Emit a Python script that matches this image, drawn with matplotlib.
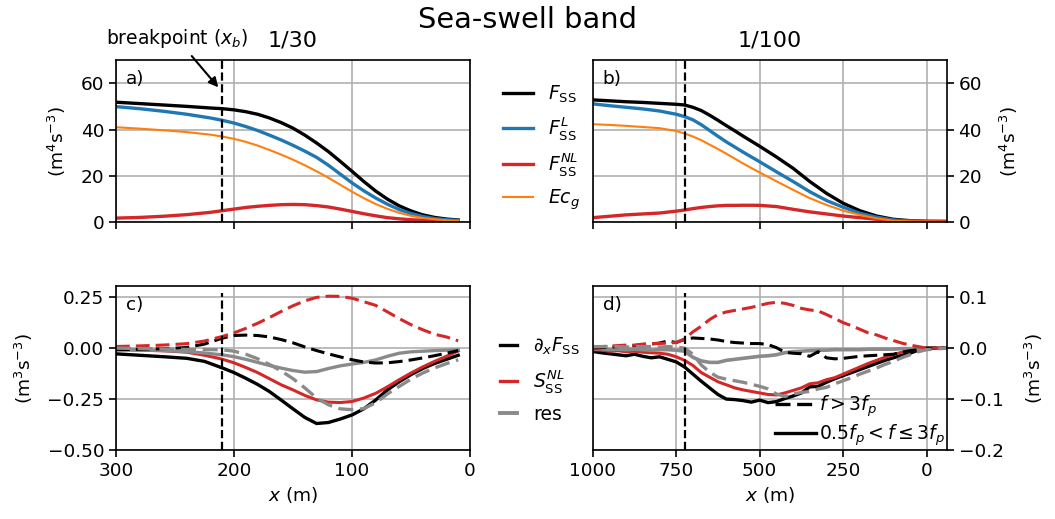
import matplotlib
matplotlib.use('Agg')
import matplotlib.pyplot as plt
from matplotlib.lines import Line2D

# ---------------- data ----------------
# slope 1/30 (panels a, c)
xa = [300, 280, 260, 240, 220, 210, 200, 190, 180, 170, 160, 150, 140, 130, 120,
      110, 100, 90, 80, 70, 60, 50, 40, 30, 20, 10]
Fss_a = [51.8, 51.2, 50.6, 50.0, 49.3, 49.0, 48.5, 47.7, 46.6, 45.0, 43.0, 40.6, 37.6,
         34.2, 30.5, 26.3, 22.0, 17.6, 13.5, 10.0, 7.1, 4.9, 3.2, 2.1, 1.4, 1.0]
FssL_a = [49.9, 49.0, 47.9, 46.6, 45.0, 44.0, 42.8, 41.3, 39.6, 37.6, 35.5, 33.2, 30.7,
          28.0, 24.6, 20.8, 17.0, 13.6, 10.5, 7.8, 5.5, 3.8, 2.5, 1.6, 1.1, 0.8]
FssNL_a = [1.8, 2.1, 2.6, 3.3, 4.3, 5.0, 5.7, 6.4, 6.9, 7.3, 7.6, 7.7, 7.6, 7.2, 6.6,
           5.7, 4.7, 3.7, 2.8, 2.0, 1.5, 1.1, 0.9, 0.8, 0.7, 0.7]
Ecg_a = [41.0, 40.4, 39.7, 38.9, 37.8, 37.0, 36.0, 34.7, 33.1, 31.2, 29.2, 27.0, 24.6,
         22.0, 19.2, 16.2, 13.2, 10.4, 7.9, 5.8, 4.1, 2.8, 1.9, 1.3, 0.9, 0.7]

xc = [300, 280, 260, 240, 225, 210, 200, 190, 180, 170, 160, 150, 140, 130, 120,
      110, 100, 90, 80, 70, 60, 50, 40, 30, 20, 10]
dF_lo_c = [-0.028, -0.035, -0.042, -0.050, -0.065, -0.097, -0.120, -0.148, -0.178, -0.213,
           -0.255, -0.298, -0.340, -0.370, -0.365, -0.348, -0.328, -0.298, -0.255, -0.205,
           -0.165, -0.130, -0.100, -0.075, -0.055, -0.035]
dF_hi_c = [-0.008, -0.006, -0.003, 0.003, 0.020, 0.049, 0.062, 0.064, 0.062, 0.055, 0.042,
           0.026, 0.006, -0.012, -0.028, -0.043, -0.057, -0.068, -0.073, -0.072, -0.066,
           -0.058, -0.048, -0.037, -0.025, -0.012]
S_lo_c = [-0.008, -0.010, -0.013, -0.020, -0.035, -0.054, -0.072, -0.095, -0.120, -0.150,
          -0.180, -0.205, -0.232, -0.254, -0.265, -0.267, -0.262, -0.245, -0.222, -0.190,
          -0.155, -0.122, -0.092, -0.065, -0.040, -0.014]
S_hi_c = [0.008, 0.011, 0.015, 0.022, 0.035, 0.057, 0.075, 0.097, 0.122, 0.150, 0.180,
          0.208, 0.232, 0.249, 0.255, 0.254, 0.245, 0.228, 0.210, 0.178, 0.145, 0.115,
          0.090, 0.068, 0.055, 0.036]
res_lo_c = [-0.005, -0.008, -0.012, -0.017, -0.024, -0.033, -0.042, -0.055, -0.070, -0.085,
            -0.098, -0.110, -0.118, -0.115, -0.100, -0.087, -0.078, -0.070, -0.058, -0.040,
            -0.025, -0.018, -0.015, -0.012, -0.010, -0.008]
res_hi_c = [0.000, -0.002, -0.004, -0.006, -0.007, -0.008, -0.015, -0.030, -0.052, -0.080,
            -0.112, -0.150, -0.195, -0.245, -0.278, -0.298, -0.302, -0.297, -0.268, -0.225,
            -0.188, -0.152, -0.122, -0.097, -0.076, -0.057]

# slope 1/100 (panels b, d)
xb = [1000, 950, 900, 850, 800, 750, 725, 700, 675, 650, 625, 600, 575, 550, 525, 500,
      450, 400, 350, 300, 250, 200, 150, 100, 50, 0, -60]
Fss_b = [52.8, 52.4, 52.0, 51.7, 51.3, 50.9, 50.6, 49.6, 48.2, 46.2, 44.0, 41.7, 39.5,
         37.2, 35.0, 32.8, 28.2, 23.3, 17.6, 12.5, 8.2, 5.0, 2.7, 1.3, 0.7, 0.4, 0.35]
FssL_b = [51.1, 50.3, 49.6, 48.9, 48.0, 46.6, 45.6, 44.2, 42.1, 39.6, 37.1, 34.7, 32.5,
          30.3, 28.2, 26.1, 21.8, 17.6, 13.2, 9.4, 6.5, 3.9, 2.2, 1.0, 0.5, 0.3, 0.25]
FssNL_b = [2.0, 2.6, 3.2, 3.6, 4.0, 4.8, 5.3, 5.9, 6.4, 6.8, 7.1, 7.3, 7.3, 7.35, 7.35,
           7.3, 6.8, 5.6, 4.5, 3.6, 2.7, 2.0, 1.3, 0.7, 0.6, 0.45, 0.4]
Ecg_b = [42.3, 42.0, 41.6, 41.1, 40.6, 39.4, 38.3, 37.0, 35.4, 33.5, 31.6, 29.6, 27.5,
         25.4, 23.4, 21.5, 17.7, 14.0, 10.4, 7.5, 5.0, 3.2, 1.7, 0.7, 0.4, 0.3, 0.25]

xd = [1000, 975, 950, 925, 900, 875, 850, 825, 800, 775, 750, 725, 700, 675, 650, 625,
      600, 575, 550, 525, 500, 475, 450, 425, 400, 375, 350, 325, 300, 275, 250, 225,
      200, 175, 150, 125, 100, 75, 50, 25, 0, -60]
dF_lo_d = [-0.0065, -0.009, -0.011, -0.013, -0.015, -0.012, -0.016, -0.019, -0.017, -0.022,
           -0.027, -0.037, -0.051, -0.065, -0.078, -0.091, -0.100, -0.101, -0.103, -0.106,
           -0.102, -0.107, -0.105, -0.099, -0.094, -0.088, -0.076, -0.075, -0.067, -0.060,
           -0.054, -0.048, -0.042, -0.036, -0.030, -0.024, -0.019, -0.014, -0.010, -0.004,
           0.0, 0.0]
dF_hi_d = [0.0, 0.001, 0.002, 0.003, 0.004, 0.005, 0.007, 0.008, 0.010, 0.014, 0.011, 0.017,
           0.020, 0.019, 0.018, 0.016, 0.013, 0.011, 0.010, 0.009, 0.009, 0.007, 0.001,
           -0.008, -0.010, -0.011, -0.016, -0.007, -0.019, -0.021, -0.020, -0.018, -0.016,
           -0.015, -0.014, -0.013, -0.012, -0.008, -0.005, -0.003, 0.0, 0.0]
S_lo_d = [-0.003, -0.004, -0.006, -0.005, -0.007, -0.006, -0.008, -0.009, -0.010, -0.012,
          -0.017, -0.024, -0.034, -0.048, -0.057, -0.066, -0.072, -0.078, -0.082, -0.085,
          -0.088, -0.091, -0.092, -0.088, -0.083, -0.078, -0.070, -0.068, -0.062, -0.058,
          -0.051, -0.044, -0.037, -0.030, -0.024, -0.018, -0.013, -0.008, -0.005, -0.002,
          0.0, 0.0]
S_hi_d = [0.002, 0.003, 0.004, 0.005, 0.006, 0.006, 0.008, 0.009, 0.009, 0.010, 0.011, 0.018,
          0.032, 0.043, 0.056, 0.066, 0.071, 0.074, 0.077, 0.080, 0.084, 0.088, 0.090, 0.088,
          0.084, 0.078, 0.075, 0.073, 0.066, 0.058, 0.050, 0.044, 0.037, 0.030, 0.026, 0.020,
          0.015, 0.010, 0.006, 0.003, 0.0, 0.0]
res_lo_d = [-0.002, -0.001, -0.003, -0.002, -0.003, -0.002, -0.003, -0.004, -0.003, -0.003,
            -0.004, -0.006, -0.018, -0.025, -0.028, -0.028, -0.024, -0.022, -0.020, -0.018,
            -0.016, -0.015, -0.013, -0.009, -0.007, -0.006, -0.005, -0.004, -0.004, -0.003,
            -0.003, -0.003, -0.003, -0.002, -0.002, -0.002, -0.002, -0.001, -0.001, -0.001,
            0.0, 0.0]
res_hi_d = [0.003, 0.003, 0.003, 0.003, 0.002, 0.003, 0.003, 0.003, 0.002, 0.003, 0.002, 0.0,
            -0.012, -0.033, -0.047, -0.057, -0.061, -0.064, -0.067, -0.071, -0.075, -0.080,
            -0.090, -0.095, -0.090, -0.087, -0.085, -0.080, -0.077, -0.070, -0.064, -0.058,
            -0.051, -0.045, -0.039, -0.032, -0.026, -0.019, -0.013, -0.007, -0.003, 0.0]

xb_break_30 = 210
xb_break_100 = 725

# ---------------- style ----------------
plt.rcParams['font.family'] = ['DejaVu Sans']
plt.rcParams['mathtext.fontset'] = 'dejavusans'
FS = 13.3
plt.rcParams['font.size'] = FS

BLACK = 'k'
BLUE = '#1f77b4'
RED = '#d62728'
ORANGE = '#ff7f0e'
GREY = '#8a8a8a'
DASH = (0, (4.5, 2.0))

W, H = 1055, 519
fig = plt.figure(figsize=(W / 100, H / 100), dpi=100)


def rect(l, t, r, b):
    return [l / W, 1 - b / H, (r - l) / W, (b - t) / H]


ax_a = fig.add_axes(rect(116, 60, 470, 222.3))
ax_b = fig.add_axes(rect(592.7, 60, 946.7, 222.3))
ax_c = fig.add_axes(rect(116, 286, 470, 450))
ax_d = fig.add_axes(rect(592.7, 286, 946.7, 450))

for ax in (ax_a, ax_b, ax_c, ax_d):
    ax.grid(True, color='#b0b0b0', lw=1.2)
    ax.set_axisbelow(True)
    for s in ax.spines.values():
        s.set_linewidth(1.2)
    ax.tick_params(width=1.2, length=5, labelsize=FS)

# panel a
ax_a.plot(xa, Fss_a, color=BLACK, lw=2.4)
ax_a.plot(xa, FssL_a, color=BLUE, lw=2.4)
ax_a.plot(xa, FssNL_a, color=RED, lw=2.4)
ax_a.plot(xa, Ecg_a, color=ORANGE, lw=1.5)
ax_a.axvline(xb_break_30, color='k', ls='--', lw=1.6)
ax_a.set_xlim(300, 0)
ax_a.set_ylim(0, 70)
ax_a.set_xticks([300, 200, 100, 0])
ax_a.set_yticks([0, 20, 40, 60])
ax_a.tick_params(labelbottom=False)
ax_a.set_ylabel('(m$^4$s$^{-3}$)')
ax_a.yaxis.set_label_coords(-0.137, 0.5)
ax_a.set_title('1/30', fontsize=16, pad=10)
ax_a.text(0.028, 0.88, 'a)', transform=ax_a.transAxes, va='center', ha='left')

# panel b
ax_b.plot(xb, Fss_b, color=BLACK, lw=2.4)
ax_b.plot(xb, FssL_b, color=BLUE, lw=2.4)
ax_b.plot(xb, FssNL_b, color=RED, lw=2.4)
ax_b.plot(xb, Ecg_b, color=ORANGE, lw=1.5)
ax_b.axvline(xb_break_100, color='k', ls='--', lw=1.6)
ax_b.set_xlim(1000, -60)
ax_b.set_ylim(0, 70)
ax_b.set_xticks([1000, 750, 500, 250, 0])
ax_b.set_yticks([0, 20, 40, 60])
ax_b.tick_params(labelbottom=False)
ax_b.yaxis.tick_right()
ax_b.yaxis.set_label_position('right')
ax_b.set_ylabel('(m$^4$s$^{-3}$)')
ax_b.yaxis.set_label_coords(1.146, 0.5)
ax_b.set_title('1/100', fontsize=16, pad=10)
ax_b.text(0.028, 0.88, 'b)', transform=ax_b.transAxes, va='center', ha='left')

# panel c
ax_c.plot(xc, dF_lo_c, color=BLACK, lw=2.4)
ax_c.plot(xc, S_lo_c, color=RED, lw=2.2)
ax_c.plot(xc, res_lo_c, color=GREY, lw=2.4)
ax_c.plot(xc, dF_hi_c, color=BLACK, lw=2.2, ls=DASH)
ax_c.plot(xc, S_hi_c, color=RED, lw=2.2, ls=DASH)
ax_c.plot(xc, res_hi_c, color=GREY, lw=2.4, ls=DASH)
ax_c.vlines(xb_break_30, -0.5, 0.27, color='k', ls='--', lw=1.6)
ax_c.set_xlim(300, 0)
ax_c.set_ylim(-0.5, 0.305)
ax_c.set_xticks([300, 200, 100, 0])
ax_c.set_yticks([-0.5, -0.25, 0.0, 0.25])
ax_c.set_yticklabels(['\u22120.50', '\u22120.25', '0.00', '0.25'])
ax_c.set_xlabel('$x$ (m)')
ax_c.set_ylabel('(m$^3$s$^{-3}$)')
ax_c.yaxis.set_label_coords(-0.228, 0.5)
ax_c.text(0.028, 0.885, 'c)', transform=ax_c.transAxes, va='center', ha='left')

# panel d
ax_d.plot(xd, dF_lo_d, color=BLACK, lw=2.4)
ax_d.plot(xd, S_lo_d, color=RED, lw=2.2)
ax_d.plot(xd, res_lo_d, color=GREY, lw=2.6)
ax_d.plot(xd, dF_hi_d, color=BLACK, lw=2.2, ls=DASH)
ax_d.plot(xd, S_hi_d, color=RED, lw=2.2, ls=DASH)
ax_d.plot(xd, res_hi_d, color=GREY, lw=2.4, ls=DASH)
ax_d.vlines(xb_break_100, -0.2, 0.108, color='k', ls='--', lw=1.6)
ax_d.set_xlim(1000, -60)
ax_d.set_ylim(-0.2, 0.122)
ax_d.set_xticks([1000, 750, 500, 250, 0])
ax_d.set_yticks([-0.2, -0.1, 0.0, 0.1])
ax_d.set_yticklabels(['\u22120.2', '\u22120.1', '0.0', '0.1'])
ax_d.yaxis.tick_right()
ax_d.yaxis.set_label_position('right')
ax_d.set_xlabel('$x$ (m)')
ax_d.set_ylabel('(m$^3$s$^{-3}$)')
ax_d.yaxis.set_label_coords(1.216, 0.5)
ax_d.text(0.028, 0.885, 'd)', transform=ax_d.transAxes, va='center', ha='left')

ax_d.legend(
    handles=[Line2D([], [], color='k', lw=2.4, ls=DASH), Line2D([], [], color='k', lw=2.4)],
    labels=['$f > 3f_p$', r'$0.5f_p < f \leq 3f_p$'],
    loc='lower right', bbox_to_anchor=(1.0, 0.0), frameon=False, borderpad=0.05,
    borderaxespad=0.05, handlelength=2.2, handletextpad=0.15, labelspacing=0.2, fontsize=13.5)

# legends between panels
fig.legend(
    handles=[Line2D([], [], color=BLACK, lw=2.4), Line2D([], [], color=BLUE, lw=2.4),
             Line2D([], [], color=RED, lw=2.4), Line2D([], [], color=ORANGE, lw=1.5)],
    labels=[r'$F_{\mathrm{SS}}$', r'$F^{L}_{\mathrm{SS}}$', r'$F^{NL}_{\mathrm{SS}}$', r'$Ec_g$'],
    loc='upper left', bbox_to_anchor=(503 / W, 1 - 84 / H), frameon=False, borderpad=0,
    borderaxespad=0, handlelength=1.6, handletextpad=0.8, labelspacing=0.5, fontsize=13.5)

fig.legend(
    handles=[Line2D([], [], color=BLACK, lw=2.4), Line2D([], [], color=RED, lw=2.4),
             Line2D([], [], color=GREY, lw=2.8)],
    labels=[r'$\partial_x F_{\mathrm{SS}}$', r'$S^{NL}_{\mathrm{SS}}$', 'res'],
    loc='upper left', bbox_to_anchor=(500 / W, 1 - 336 / H), frameon=False, borderpad=0,
    borderaxespad=0, handlelength=0.9, handletextpad=0.85, labelspacing=0.55, fontsize=13.5)

# titles / annotations
fig.text(0.5, 1 - 28 / H, 'Sea-swell band', ha='center', va='baseline', fontsize=20.8)
fig.text(106 / W, 1 - 44 / H, 'breakpoint ($x_b$)', ha='left', va='baseline', fontsize=13.5)
ax_a.annotate('', xy=(213.3, 58.2), xytext=(235.8, 71.7), xycoords='data',
              arrowprops=dict(arrowstyle='-|>', color='k', lw=1.5, shrinkA=0, shrinkB=0,
                              mutation_scale=14),
              annotation_clip=False)

fig.savefig('out.png', dpi=100)
